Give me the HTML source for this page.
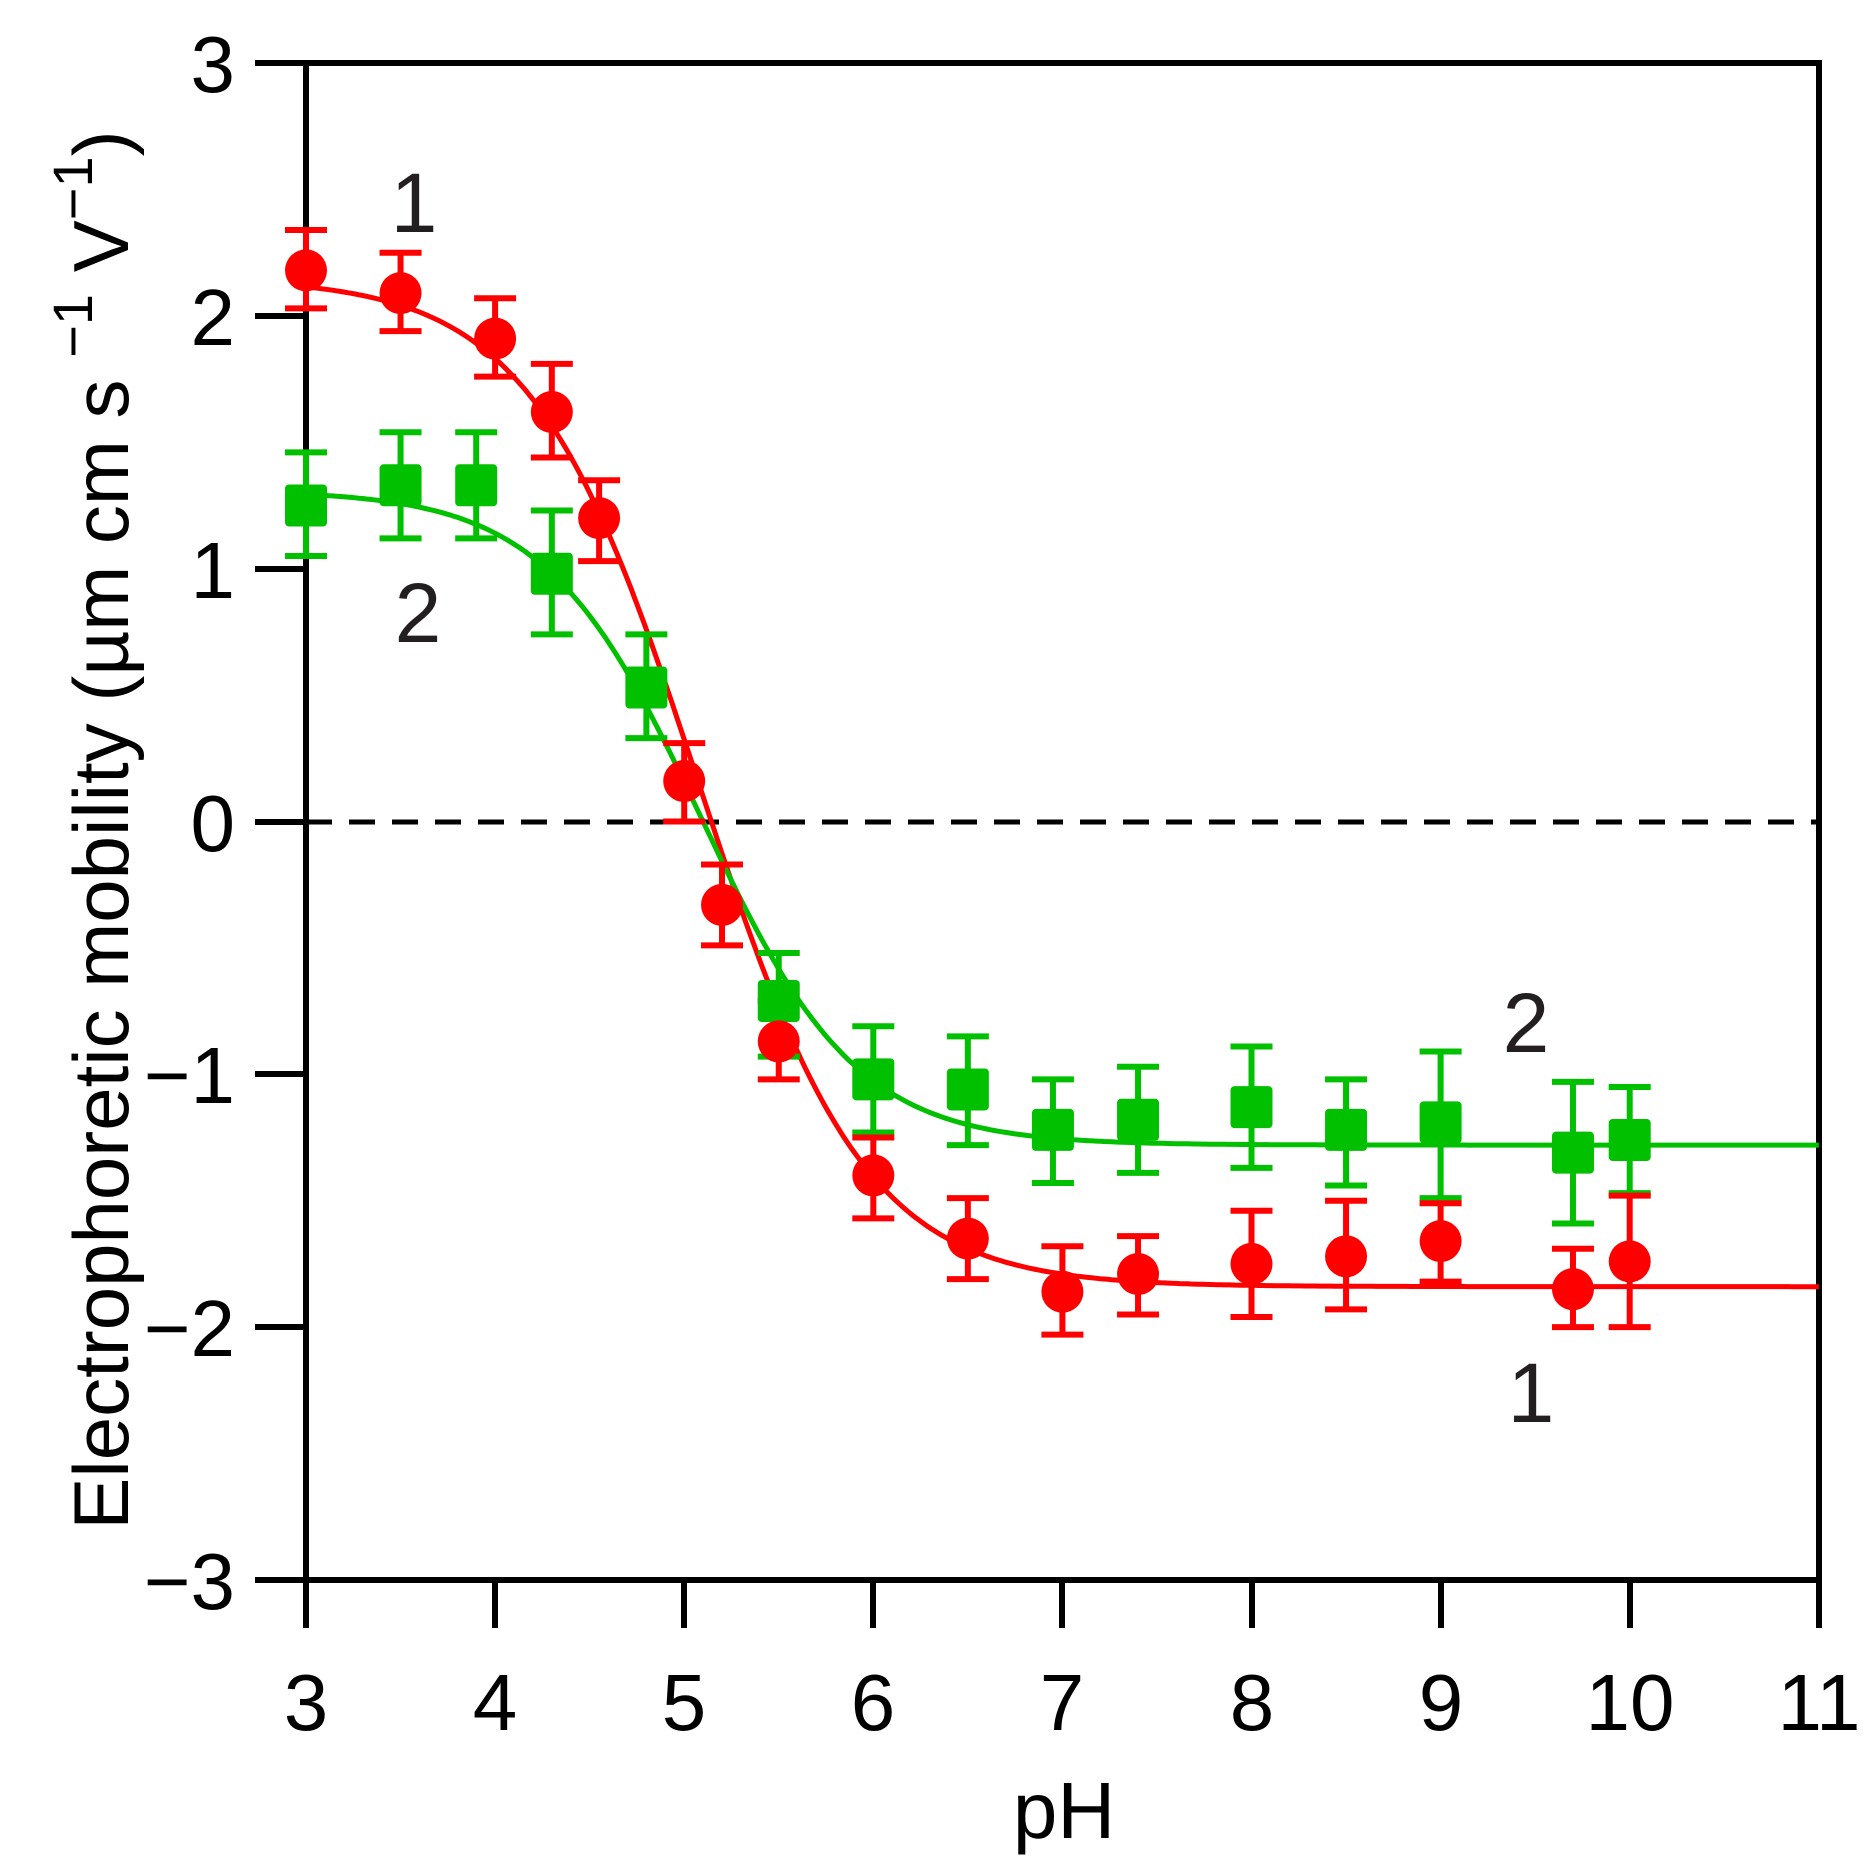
<!DOCTYPE html>
<html><head><meta charset="utf-8"><style>
html,body{margin:0;padding:0;background:#fff;}
svg{display:block;}
text{font-family:"Liberation Sans",Arial,sans-serif;}
</style></head><body>
<svg id="s" width="1876" height="1865" viewBox="0 0 1876 1865" xmlns="http://www.w3.org/2000/svg">
<rect width="1876" height="1865" fill="#fff"/>
<g stroke="#000" stroke-width="6" fill="none">
<path d="M306 63 H1819 V1628 M306 63 V1628 M255 1580 H1819"/>
<path d="M255 63 H306 M255 316 H306 M255 569 H306 M255 822 H306 M255 1074 H306 M255 1327 H306"/>
<path d="M495 1580 V1628 M684 1580 V1628 M873 1580 V1628 M1062 1580 V1628 M1252 1580 V1628 M1441 1580 V1628 M1630 1580 V1628"/>
</g>
<line x1="306" y1="822" x2="1819" y2="822" stroke="#000" stroke-width="5" stroke-dasharray="26 17"/>
<g font-size="80" text-anchor="end" fill="#000">
<text x="235" y="92">3</text><text x="235" y="345">2</text><text x="235" y="598">1</text><text x="235" y="851">0</text><text x="235" y="1103">−1</text><text x="235" y="1356">−2</text><text x="235" y="1609">−3</text>
</g>
<g font-size="80" text-anchor="middle" fill="#000">
<text x="306" y="1730">3</text><text x="495" y="1730">4</text><text x="684" y="1730">5</text><text x="873" y="1730">6</text><text x="1062" y="1730">7</text><text x="1252" y="1730">8</text><text x="1441" y="1730">9</text><text x="1630" y="1730">10</text><text x="1819" y="1730">11</text>
<text x="1064" y="1838">pH</text>
</g>
<text transform="translate(128,830) rotate(-90)" font-size="78" text-anchor="middle" fill="#000">Electrophoretic mobility (µm cm s <tspan dy="-36" font-size="56">−1</tspan><tspan dy="36"> V</tspan><tspan dy="-36" font-size="56">−1</tspan><tspan dy="36">)</tspan></text>
<g id="data"></g>
<g font-size="84" text-anchor="middle" fill="#231f20">
<text x="414" y="232">1</text><text x="418" y="642">2</text><text x="1526" y="1052">2</text><text x="1531" y="1422">1</text>
</g>
</svg>
<script>
const X=v=>306+(v-3)*189.1, Y=v=>821.5-v*252.8;
const red=[[3,2.18,2.34,2.03],[3.5,2.09,2.25,1.94],[4,1.91,2.07,1.76],[4.3,1.62,1.81,1.44],[4.55,1.2,1.35,1.03],[5,0.16,0.31,0],[5.2,-0.33,-0.17,-0.49],[5.5,-0.87,-0.71,-1.02],[6,-1.4,-1.25,-1.57],[6.5,-1.65,-1.49,-1.81],[7,-1.86,-1.68,-2.03],[7.4,-1.79,-1.64,-1.95],[8,-1.75,-1.54,-1.96],[8.5,-1.72,-1.5,-1.93],[9,-1.66,-1.51,-1.82],[9.7,-1.85,-1.69,-2.0],[10,-1.74,-1.48,-2.0]];
const grn=[[3,1.25,1.46,1.05],[3.5,1.33,1.54,1.12],[3.9,1.33,1.54,1.12],[4.3,0.98,1.23,0.74],[4.8,0.53,0.74,0.33],[5.5,-0.71,-0.52,-0.93],[6,-1.02,-0.81,-1.23],[6.5,-1.06,-0.85,-1.28],[6.95,-1.22,-1.02,-1.43],[7.4,-1.18,-0.97,-1.39],[8,-1.13,-0.89,-1.37],[8.5,-1.22,-1.02,-1.44],[9,-1.19,-0.91,-1.49],[9.7,-1.31,-1.03,-1.59],[10,-1.26,-1.05,-1.47]];
let h='';
function curve(hi,lo,x0,s,c){let d='';for(let x=3;x<=11.001;x+=0.02){const y=lo+(hi-lo)/(1+Math.exp((x-x0)/s));d+=(d?'L':'M')+X(x).toFixed(1)+' '+Y(y).toFixed(1);}h+=`<path d="${d}" fill="none" stroke="${c}" stroke-width="5"/>`;}
function err(arr,c){arr.forEach(p=>{const x=X(p[0]);h+=`<path d="M${x} ${Y(p[2])}V${Y(p[3])}M${x-21} ${Y(p[2])}H${x+21}M${x-21} ${Y(p[3])}H${x+21}" stroke="${c}" stroke-width="6" fill="none"/>`;});}
curve(2.15,-1.84,5.075,0.44,'#ff0000');
curve(1.31,-1.28,5.09,0.41,'#00c000');
err(grn,'#00c000');err(red,'#ff0000');
grn.forEach(p=>{h+=`<rect x="${X(p[0])-21}" y="${Y(p[1])-21}" width="42" height="42" rx="4" fill="#00c000"/>`;});
red.forEach(p=>{h+=`<circle cx="${X(p[0])}" cy="${Y(p[1])}" r="21" fill="#ff0000"/>`;});
document.getElementById('data').innerHTML=h;
</script>
</body></html>
